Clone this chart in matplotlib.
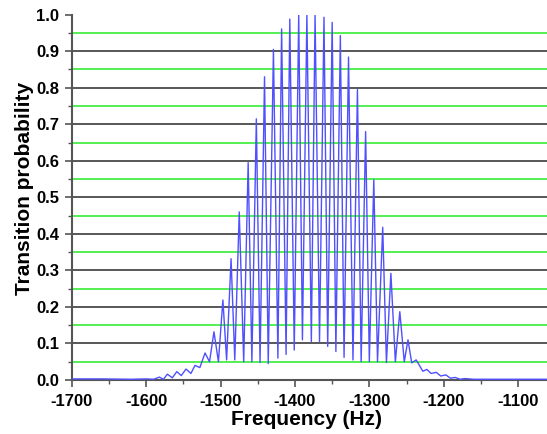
import numpy as np
import matplotlib.pyplot as plt
from matplotlib.ticker import MultipleLocator

# points (Hz, probability): tails, peaks and troughs
freq = [-1700, -1660, -1620, -1600, -1590,
        -1582.5, -1577, -1571.7, -1565, -1559, -1553, -1546.6, -1540, -1534.5, -1528,
        -1521, -1515, -1509, -1503, -1497, -1492, -1486, -1481, -1475, -1469,
        -1463, -1458, -1452, -1447, -1441, -1436, -1429, -1423, -1418, -1412,
        -1407, -1401, -1395, -1390, -1384, -1378, -1373, -1367, -1361, -1356,
        -1350, -1345, -1339, -1334, -1328, -1322, -1316, -1311, -1305, -1300,
        -1294, -1289, -1282, -1277, -1271, -1265, -1259, -1253, -1248, -1243,
        -1237, -1228, -1222.6, -1217, -1210, -1204, -1197, -1191, -1184.5, -1178,
        -1171, -1160, -1130, -1100, -1060]
prob = [0.003, 0.003, 0.002, 0.003, 0.002,
        0.008, 0.002, 0.016, 0.006, 0.023, 0.012, 0.030, 0.018, 0.040, 0.034,
        0.074, 0.050, 0.132, 0.050, 0.219, 0.055, 0.332, 0.055, 0.460, 0.050,
        0.595, 0.050, 0.715, 0.048, 0.830, 0.045, 0.905, 0.060, 0.961, 0.070,
        0.988, 0.082, 1.000, 0.110, 1.000, 0.105, 1.000, 0.105, 0.993, 0.092,
        0.979, 0.078, 0.943, 0.062, 0.884, 0.055, 0.795, 0.050, 0.680, 0.050,
        0.548, 0.050, 0.418, 0.048, 0.292, 0.050, 0.187, 0.050, 0.110, 0.047,
        0.055, 0.024, 0.029, 0.018, 0.021, 0.011, 0.014, 0.005, 0.007, 0.002,
        0.004, 0.002, 0.002, 0.002, 0.002]

black_levels = [0.1, 0.2, 0.3, 0.4, 0.5, 0.6, 0.7, 0.8, 0.9]
green_levels = [0.05, 0.15, 0.25, 0.35, 0.45, 0.55, 0.65, 0.75, 0.85, 0.95]

plt.rcParams['font.family'] = ['Liberation Sans', 'DejaVu Sans']
plt.rcParams['axes.unicode_minus'] = False

fig = plt.figure(figsize=(5.47, 4.34), dpi=100)
ax = fig.add_axes([0.1316, 0.1244, 0.8684, 0.8418])

for lv in black_levels:
    ax.axhline(lv, color='#4a4a4a', lw=1.3, zorder=1)
for lv in green_levels:
    ax.axhline(lv, color='#44ee44', lw=1.3, zorder=1)

ax.plot(freq, prob, color='#5050ff', lw=1.0, solid_joinstyle='round', zorder=3)

ax.set_xlim(-1700, -1061)
ax.set_ylim(0, 1.0)
ax.xaxis.set_major_locator(MultipleLocator(100))
ax.xaxis.set_minor_locator(MultipleLocator(50))
ax.yaxis.set_major_locator(MultipleLocator(0.1))
ax.yaxis.set_minor_locator(MultipleLocator(0.05))
ax.yaxis.set_major_formatter(plt.FormatStrFormatter('%.1f'))

for s in ['top', 'right']:
    ax.spines[s].set_visible(False)
for s in ['left', 'bottom']:
    ax.spines[s].set_color('#555555')
    ax.spines[s].set_linewidth(1.5)

ax.tick_params(which='major', direction='out', length=5, width=1.2, color='#555555',
               labelsize=12)
ax.tick_params(which='minor', direction='out', length=3, width=1.0, color='#555555')
ax.tick_params(axis='x', pad=5)
ax.tick_params(axis='y', pad=4)
for lab in ax.get_xticklabels() + ax.get_yticklabels():
    lab.set_fontweight('bold')

ax.set_xlabel('Frequency (Hz)', fontsize=15, fontweight='bold')
ax.set_ylabel('Transition probability', fontsize=15, fontweight='bold')
ax.xaxis.set_label_coords(0.494, -0.083)
ax.yaxis.set_label_coords(-0.08, 0.525)

fig.savefig('out.png', dpi=100)
